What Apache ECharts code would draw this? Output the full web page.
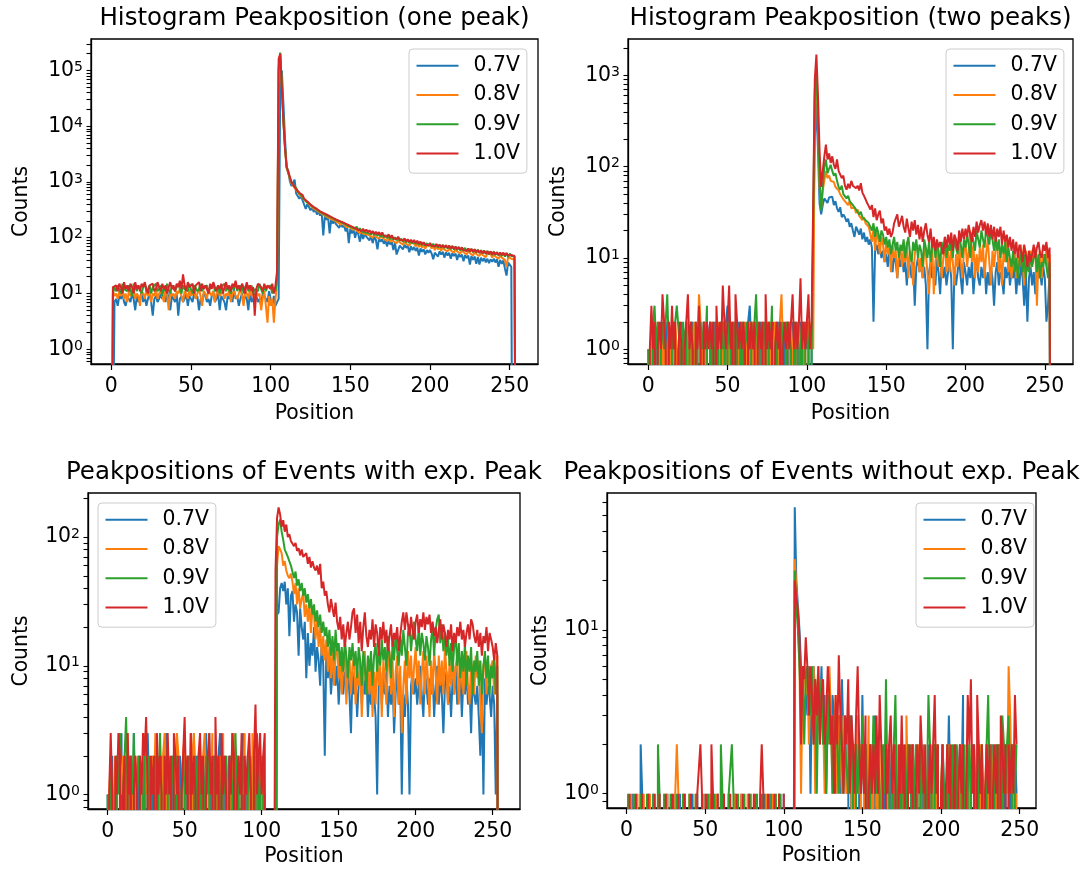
<!DOCTYPE html>
<html>
<head>
<meta charset="utf-8">
<script src="https://cdn.jsdelivr.net/npm/echarts@6/dist/echarts.min.js"></script>
<style>html,body{margin:0;padding:0;background:#fff}#main{width:1084px;height:872px}</style>
</head>
<body>
<div id="main"></div>
<script>
var voltages = ['0.7V', '0.8V', '0.9V', '1.0V'];
var colors = ['#1f77b4', '#ff7f0e', '#2ca02c', '#d62728'];
var titles = ['Histogram Peakposition (one peak)', 'Histogram Peakposition (two peaks)',
  'Peakpositions of Events with exp. Peak', 'Peakpositions of Events without exp. Peak'];
var xTicks = [0, 50, 100, 150, 200, 250];

// counts per position (index = position)
var onePeak07 = [
  0,0,7,8,6,9,8,10,7,6, 9,8,7,10,8,5,9,7,8,11, 7,9,6,8,10,7,4,8,9,7, 8,10,8,9,7,11,8,5,9,8,
  7,10,4,8,9,7,8,10,6,9, 8,7,11,8,9,5,8,7,10,9, 7,8,6,9,11,7,8,10,5,9, 8,7,5,9,8,10,7,12,8,9,
  6,8,10,7,9,8,5,11,7,8, 10,9,7,8,6,10,9,8,7,11, 8,6,9,6,7,8,60000,100000,25000,6000,
  1800,1600,1050,850,800,1100,620,640,500,560, 470,440,330,400,360,310,350,290,330,260,
  300,250,280,110,250,210,240,120,220,180, 200,175,190,150,180,155,170,130,160,80,
  145,120,140,100,135,115,85,125,95,118, 105,112,90,108,80,104,92,62,98,85,
  94,78,90,70,88,76,84,60,82,50, 52,72,78,62,75,66,72,55,70,60, 68,58,66,48,64,56,62,50,60,54,
  60,52,41,54,58,46,57,50,56,44, 55,48,54,42,53,47,52,40,51,45, 50,38,49,43,48,33,47,40,46,34,
  45,33,44,38,43,36,42,35,41,37, 42,36,41,30,40,34,39,28,21,36, 38,30,0,0,0,0
];
var onePeak08 = [
  0,11,9,10,8,11,9,12,8,10, 7,11,9,10,12,8,10,9,6,11, 10,8,12,9,11,7,10,9,12,8, 10,11,9,7,12,10,5,11,9,10,
  8,11,10,12,9,7,11,10,8,12, 9,10,11,8,10,12,9,6,11,10, 8,12,10,9,11,7,10,12,9,10, 11,8,10,9,12,7,10,11,9,8,
  10,12,9,6,11,10,8,12,9,10, 7,11,9,10,5,8,11,6,3,9, 6,8,3,8,15,120000,200000,50000,12000,4000,
  1800,1700,1150,950,860,820,720,690,600,590, 520,505,450,445,400,395,350,355,320,326,
  295,300,270,280,250,258,232,242,215,226, 205,214,188,200,172,190,170,178,152,168,
  150,160,138,152,135,140,120,134,118,128, 115,124,110,118,100,114,104,110,96,106,
  100,96,104,88,98,84,96,86,92,80, 90,82,88,75,86,78,84,72,81,75, 79,70,78,68,76,66,75,64,73,68,
  72,64,71,60,70,62,68,58,67,61, 66,57,65,59,63,54,62,57,61,52, 60,55,59,50,58,53,57,48,56,51,
  55,47,54,49,53,45,52,48,51,44, 50,46,49,42,48,44,47,40,30,45, 47,42,45,40,0,0
];
var onePeak09 = [
  0,10,13,11,14,12,10,15,12,13, 11,14,12,9,15,13,11,14,12,10, 13,15,11,12,14,10,13,12,15,11, 12,14,9,13,11,15,12,10,14,13,
  11,13,15,12,10,14,12,13,11,15, 12,10,14,13,11,12,15,11,13,12, 14,10,13,12,15,11,12,14,10,13, 12,15,11,13,12,10,14,12,16,11,
  13,12,14,10,13,15,11,12,14,10, 12,13,11,15,12,10,14,11,13,12, 14,10,12,11,18,100000,210000,55000,13000,4200,
  1850,1750,1200,990,890,830,780,670,650,580, 560,490,495,430,440,390,395,350,355,320,
  325,292,305,272,285,252,265,238,250,222, 235,208,220,196,210,186,198,174,186,162,
  175,153,166,145,158,136,148,130,140,124, 134,121,130,115,126,112,122,108,118,104,
  115,101,112,98,108,94,105,92,102,90, 99,88,96,85,94,82,92,80,89,79, 87,77,86,75,84,73,82,72,80,71,
  79,70,78,68,76,67,75,66,74,65, 73,64,72,62,71,61,70,60,68,59, 67,58,66,57,64,56,63,55,62,54,
  61,53,60,52,59,51,58,50,57,49, 56,49,55,48,54,47,53,46,53,45, 52,47,51,46,0,0
];
var onePeak10 = [
  0,13,12,14,11,15,13,10,16,12, 14,11,15,13,10,16,12,14,11,15, 13,16,12,10,14,13,15,11,12,16, 13,11,15,12,14,10,13,16,12,14,
  11,15,13,17,12,22,14,11,16,13, 12,15,10,14,13,16,11,15,12,14, 13,10,15,12,16,13,11,14,12,15, 10,13,16,12,14,11,15,13,17,12,
  14,11,15,13,10,16,12,14,11,13, 4,12,15,14,13,11,15,12,14,13, 12,15,10,14,25,160000,200000,50000,12000,4000,
  1900,1800,1250,1010,900,860,740,720,640,610, 585,500,510,445,455,395,405,355,372,328,
  338,298,315,278,296,262,275,244,258,228, 241,214,229,201,217,191,205,179,192,168,
  180,158,170,149,160,139,150,132,145,128, 140,125,136,120,132,117,128,115,126,112,
  124,109,118,104,115,100,111,98,106,95, 104,92,99,89,97,86,94,84,92,82, 91,80,88,78,85,76,83,75,81,73,
  80,72,78,70,77,69,75,68,74,67, 73,66,72,64,71,63,69,62,68,61, 67,60,65,58,64,57,63,56,62,55,
  60,54,59,53,58,52,57,51,57,50, 56,50,55,49,54,49,54,48,53,48, 52,49,51,47,0,0
];

var twoPeaks07 = [
  0,1,1,0,2,1,0,1,2,1, 0,1,2,0,1,1,2,0,1,0, 1,2,1,0,2,1,1,0,2,1, 0,1,2,1,0,2,0,1,1,2,
  1,0,2,1,0,1,2,1,0,2, 3,1,0,2,1,0,1,2,0,1, 2,0,1,2,3,1,0,2,1,0, 1,2,0,1,2,1,0,2,1,2,
  0,1,2,0,1,2,1,0,2,1, 0,2,1,2,0,1,2,1,0,2, 1,2,0,1,1,200,500,150,40,30,
  38,45,47,40,46,44,47,38,42,35, 32,36,28,30,28,25,27,22,24,20, 17,22,20,18,21,16,19,15,17,14,
  16,13,2,12,14,11,13,10,12,9, 11,8,12,10,7,11,9,6,10,8, 11,7,9,5,10,8,6,9,3,8,
  10,7,9,6,8,5,1,7,9,6, 8,5,10,7,4,9,6,8,5,7, 9,6,1,8,5,7,10,6,4,9,
  7,5,8,6,9,4,7,10,6,5, 8,6,9,4,7,5,8,6,3,7, 9,5,7,6,4,8,6,9,5,7,
  6,8,4,7,5,9,6,3,7,2, 6,8,5,7,4,9,6,7,5,8, 6,2,3,7,0,0
];
var twoPeaks08 = [
  1,0,2,1,1,0,2,1,0,1, 2,0,1,2,1,0,1,2,1,0, 2,1,0,1,2,1,0,2,1,2, 0,1,4,2,1,0,2,1,0,2,
  1,2,0,1,2,1,0,2,1,0, 2,1,0,2,1,2,0,1,2,1, 0,2,1,0,2,1,2,0,1,2, 1,0,2,1,0,2,1,2,0,1,
  2,0,1,2,4,1,0,2,1,2, 0,1,2,0,1,2,1,0,2,1, 0,2,1,2,1,600,1000,250,60,35,
  55,70,90,75,80,70,72,68,60,62, 55,50,52,44,46,40,38,42,35,34, 36,31,34,29,30,26,28,24,25,22,
  23,15,21,12,19,16,11,17,14,9, 15,11,13,7,14,10,12,6,11,13, 8,13,9,15,6,12,10,5,11,14,
  12,7,10,6,13,11,7,4,9,14, 4,9,13,8,11,6,10,15,7,12, 7,13,9,5,11,8,14,9,6,12,
  15,8,12,20,9,14,6,11,7,13, 9,14,6,11,16,9,5,12,8,13, 14,7,11,5,12,9,15,7,10,6,
  10,13,6,11,8,14,9,5,12,10, 7,12,9,11,13,3,10,12,6,11, 9,13,7,11,0,0
];
var twoPeaks09 = [
  1,1,0,2,3,1,2,0,1,2, 1,2,4,1,0,2,1,2,3,3, 1,0,2,1,2,0,1,2,1,0, 2,1,0,2,1,2,1,3,0,1,
  2,0,1,2,1,0,2,1,2,0, 1,2,1,0,2,1,2,0,1,2, 0,1,2,1,0,2,1,2,4,1, 2,0,1,2,1,0,2,1,3,0,
  1,2,0,1,2,1,0,2,1,2, 1,0,2,1,2,0,1,2,0,1, 2,1,0,1,1,700,1200,300,70,33,
  60,100,120,85,95,105,90,80,85,70, 60,56,62,50,52,45,48,42,44,38, 36,34,35,30,32,28,29,26,27,24,
  25,20,24,17,22,19,15,20,18,14, 17,13,16,11,14,17,12,15,10,14, 12,16,10,14,17,11,9,15,12,16,
  10,14,12,8,16,13,10,15,9,13, 16,10,14,12,8,15,11,17,10,14, 12,16,10,17,13,11,18,14,10,16,
  13,18,14,10,19,15,12,20,16,13, 20,16,13,22,17,14,21,16,12,17, 12,16,10,14,11,15,9,13,10,8,
  12,7,10,6,9,12,7,11,6,9, 7,11,8,10,12,7,11,6,9,8, 11,8,6,9,0,0
];
var twoPeaks10 = [
  0,1,3,1,2,0,1,2,1,4, 2,1,0,2,1,3,1,2,0,1, 2,1,0,1,2,4,1,2,1,0, 2,1,3,1,0,2,1,2,1,2,
  1,2,0,3,1,2,1,5,2,1, 2,5,1,2,0,4,2,1,2,1, 2,1,0,2,1,2,1,2,0,1, 2,1,2,0,4,1,2,1,2,0,
  1,2,1,2,0,1,2,1,2,1, 2,4,1,2,1,2,6,1,2,1, 2,4,1,2,2,900,1700,600,150,60,
  90,130,175,120,140,110,130,105,95,120, 90,92,75,80,62,56,65,58,70,62, 65,58,62,55,66,52,48,44,40,37,
  34,38,28,35,26,30,33,24,27,20, 22,18,21,17,19,24,27,30,22,25, 29,22,19,27,21,17,25,20,26,18,
  23,16,22,15,20,24,18,15,21,13, 17,12,16,13,15,15,11,17,13,18, 14,19,12,18,16,12,20,15,21,16,
  21,17,23,18,15,22,17,25,19,23, 26,20,25,18,24,17,23,16,22,15, 21,17,22,14,20,15,18,13,17,12,
  16,11,15,10,14,12,9,14,11,8, 12,9,11,14,10,13,15,11,10,14, 12,15,10,13,0,0
];

var withExp07 = [
  1,0,1,2,0,1,2,0,1,3, 0,2,1,0,2,1,0,3,1,0, 2,1,0,1,2,0,3,1,0,2, 1,0,2,1,0,2,1,0,3,2,
  0,1,2,0,1,3,0,2,1,0, 2,1,0,2,1,0,3,1,2,0, 1,2,0,1,3,0,2,1,0,2, 1,0,2,3,0,1,2,0,1,2,
  0,3,1,0,2,1,0,2,3,0, 1,2,0,1,2,0,1,3,0,2, 1,2,0,0,0,0,0,0,0,0,
  25,26,40,44,38,45,30,40,17,35, 38,22,30,26,12,28,20,16,22,8, 18,10,15,12,20,9,14,11,7,16,
  10,2,13,8,12,6,9,11,7,10, 5,8,11,6,9,7,10,6,3,9, 6,8,4,7,10,5,8,6,9,4,
  7,5,8,6,4,1,7,9,5,8, 6,9,4,7,5,8,3,6,9,5, 7,1,6,4,8,5,1,7,9,6,
  8,5,7,10,6,4,9,7,5,8, 6,9,4,7,10,5,8,6,3,7, 9,5,7,4,8,6,10,5,7,9,
  4,8,6,9,5,7,3,8,6,5, 7,4,2,6,1,8,5,7,6,4, 7,5,1,6,0,0
];
var withExp08 = [
  0,1,2,0,1,2,1,0,2,1, 2,0,1,3,0,2,1,0,2,1, 0,2,1,0,3,1,2,0,1,2, 1,3,0,2,1,0,2,3,1,0,
  2,1,0,2,1,3,2,0,1,2, 3,0,2,1,0,2,3,1,0,2, 1,0,2,3,1,0,2,1,3,0, 2,1,0,2,1,3,0,2,1,0,
  2,1,3,0,2,1,0,2,1,3, 0,2,1,0,3,1,2,0,1,1, 2,0,1,0,0,0,0,0,0,0,
  60,85,80,75,60,65,55,50,48,52, 45,36,44,30,40,28,33,37,24,30, 22,31,18,28,25,16,23,14,20,12,
  17,11,16,9,14,8,13,7,12,15, 8,11,6,10,13,5,9,12,6,10, 12,5,9,7,11,4,8,13,6,10,
  6,11,4,9,5,12,7,10,4,11, 8,5,10,13,6,11,4,9,12,5, 10,3,7,11,5,13,8,12,6,10,
  14,7,11,5,9,13,6,12,8,4, 11,6,13,9,5,12,7,11,6,14, 9,5,11,7,13,6,10,12,5,9,
  11,6,10,13,7,5,11,9,6,12, 8,11,5,3,10,12,6,11,7,10, 11,6,9,12,0,0
];
var withExp09 = [
  1,0,2,1,1,0,2,1,3,0, 1,2,4,1,0,2,1,3,0,1, 2,1,0,1,2,0,1,2,1,0, 1,2,0,1,3,1,0,2,1,2,
  0,1,2,1,0,2,1,0,1,2, 1,0,2,1,3,0,1,2,1,0, 2,1,0,1,2,1,3,0,1,2, 1,0,2,1,0,2,1,2,0,1,
  2,1,0,3,1,2,0,1,2,1, 0,1,2,1,0,2,1,0,2,1, 0,1,1,0,0,0,0,0,0,0,
  100,125,137,110,95,80,75,70,68,60, 58,48,54,42,47,38,44,35,40,31, 36,28,33,25,30,22,27,20,25,18,
  22,17,20,14,19,12,17,11,19,13, 15,10,14,9,16,12,8,14,11,15, 10,13,8,14,11,7,13,10,6,12,
  9,13,7,12,15,9,13,10,16,11, 14,9,17,12,8,15,11,18,13,10, 17,12,19,14,10,18,21,13,18,22,
  16,13,20,12,18,15,11,17,14,10, 16,20,12,19,23,25,15,21,13,18, 12,17,10,15,9,14,17,10,15,8,
  13,9,15,7,12,9,14,6,11,9, 13,7,11,6,10,13,8,12,6,10, 8,12,6,10,0,0
];
var withExp10 = [
  0,1,3,1,0,2,1,3,2,0, 1,2,0,3,1,2,0,1,2,1, 0,2,1,3,2,4,1,0,2,1, 2,0,3,1,2,1,0,2,1,3,
  1,2,0,3,2,1,2,0,1,2, 4,1,2,0,3,1,2,1,0,2, 3,1,2,0,1,2,3,1,2,0, 4,1,2,0,3,1,2,1,0,2,
  1,3,2,0,1,2,1,3,0,2, 1,2,3,1,0,2,5,1,2,3, 1,2,3,0,0,0,0,0,0,55,
  140,170,150,120,135,110,125,100,105,93, 95,85,90,78,82,72,80,70,68,75, 62,70,58,65,58,55,60,51,62,40,
  45,35,38,30,26,33,28,24,31,22, 19,24,16,21,14,18,22,16,20,26, 28,18,25,15,22,13,20,26,17,14,
  19,16,23,14,21,18,12,20,16,22, 15,19,13,17,21,14,18,16,20,13, 17,22,26,19,26,21,17,24,19,16,
  22,25,18,23,20,26,19,24,21,25, 18,22,17,20,15,19,23,16,21,18, 14,19,16,21,13,18,15,20,17,22,
  16,19,14,18,21,16,23,21,17,15, 19,14,18,12,17,15,20,13,18,16, 14,11,15,12,0,0
];

var withoutExp07 = [
  0,0,0,0,1,1,0,0,0,2, 1,1,0,0,1,0,0,1,1,0, 0,1,1,0,0,0,1,1,0,0, 1,1,0,0,1,0,0,1,1,0,
  0,0,1,1,0,1,1,0,0,0, 1,1,0,0,1,1,0,0,1,0, 0,1,1,0,0,1,1,0,0,1, 1,0,0,1,1,0,0,0,1,1,
  0,0,1,1,0,0,1,0,1,1, 0,0,1,1,0,0,0,1,1,0, 1,0,0,0,0,0,0,56,20,14,
  10,6,4,6,5,3,6,1,5,6, 4,2,5,3,6,2,4,1,3,5, 2,4,3,1,2,3,1,5,2,3,
  1,2,0,3,1,2,1,0,2,1, 4,1,2,0,1,2,1,0,3,1, 2,0,1,1,2,0,1,2,1,0,
  1,2,0,1,0,2,1,0,1,2, 0,1,2,1,0,1,0,2,1,0, 1,0,2,1,0,1,2,0,1,1,
  0,2,1,0,1,3,1,0,2,1, 0,1,2,1,4,0,1,2,0,1, 2,1,0,1,2,0,1,1,0,2,
  1,0,1,2,0,1,0,2,1,0, 1,2,0,1,2,0,1,2,1
];
var withoutExp08 = [
  0,0,0,1,1,0,0,1,1,0, 0,1,1,0,0,1,1,0,0,0, 1,1,0,0,1,0,1,1,0,0, 0,1,2,1,0,0,1,1,0,0,
  1,1,0,0,1,1,0,0,0,1, 1,0,0,1,1,0,0,1,1,0, 0,0,1,1,0,1,1,0,0,1, 1,0,0,1,1,0,0,1,1,0,
  0,1,1,0,0,1,1,0,0,1, 1,0,0,1,1,0,0,1,0,0, 0,0,0,0,0,0,0,27,18,12,
  6,1,5,6,4,6,2,5,3,6, 1,4,6,2,5,3,1,4,2,6, 3,1,2,4,1,3,2,1,3,2,
  1,2,3,1,0,2,1,3,1,2, 0,1,2,1,3,0,2,1,0,2, 1,0,2,1,1,0,1,2,0,1,
  2,1,0,1,2,0,1,0,3,1, 1,0,2,1,0,1,2,1,0,1, 0,1,1,0,2,1,0,2,1,0,
  1,2,0,1,0,2,1,0,1,2, 1,0,1,2,0,1,1,0,2,1, 0,2,1,1,0,2,1,0,1,2,
  1,0,2,1,0,1,2,1,0,2, 1,2,1,6,3,1,2,0,1
];
var withoutExp09 = [
  0,1,1,0,0,1,1,0,0,1, 1,0,0,1,1,0,0,1,1,0, 2,1,0,0,1,1,0,0,1,1, 0,0,1,1,0,0,1,1,0,0,
  1,1,0,0,1,1,0,0,1,1, 0,0,1,1,0,0,1,1,0,0, 2,1,1,0,0,1,1,2,1,0, 0,1,1,0,0,1,1,0,0,1,
  1,0,0,1,1,0,0,1,1,0, 0,1,1,0,0,1,1,0,1,1, 0,0,0,0,0,0,0,23,14,10,
  6,3,6,2,5,6,4,3,6,2, 5,1,4,3,5,2,3,1,4,2, 3,1,2,3,2,1,3,2,1,2,
  2,1,3,2,1,0,2,1,2,1, 3,1,2,1,0,2,1,3,2,1, 2,1,0,2,1,5,1,2,0,1,
  2,4,1,0,2,1,2,0,1,2, 1,2,0,1,2,1,0,2,1,2, 0,1,4,2,1,0,2,1,2,0,
  1,2,1,0,2,1,0,2,1,0, 2,1,0,2,1,2,0,1,2,1, 0,2,1,0,2,1,2,1,0,2,
  4,1,2,0,1,2,1,2,0,3, 2,1,2,3,1,2,0,1,2
];
var withoutExp10 = [
  0,0,1,1,0,0,1,1,0,0, 1,1,0,0,1,1,0,0,1,1, 0,1,1,0,0,1,1,0,0,1, 1,0,0,1,1,0,0,1,1,0,
  0,1,1,0,0,1,1,2,1,0, 0,1,1,0,2,1,0,0,1,1, 0,0,1,1,0,0,1,1,0,0, 1,1,0,0,1,1,0,0,1,1,
  0,1,1,0,0,1,2,1,0,0, 1,1,0,0,1,1,0,1,1,0, 1,0,0,0,0,0,0,20,16,13,
  9,2,6,5,9,6,3,6,4,2, 5,3,6,2,4,5,2,3,6,4, 2,3,1,4,2,7,3,2,1,3,
  2,5,1,3,2,1,3,6,2,1, 2,1,3,0,1,2,1,2,1,3, 1,4,2,1,0,2,1,2,3,1,
  2,1,0,2,1,3,1,2,0,1, 2,1,2,0,1,2,1,3,3,1, 2,0,1,2,1,2,4,1,2,0,
  1,2,0,1,2,1,2,0,1,2, 0,1,2,1,2,0,1,4,2,5, 1,2,0,4,2,1,2,0,1,2,
  1,2,0,1,2,1,2,0,3,2, 1,2,0,2,1,2,1,4,2
];

var panelData = [
  [onePeak07, onePeak08, onePeak09, onePeak10],
  [twoPeaks07, twoPeaks08, twoPeaks09, twoPeaks10],
  [withExp07, withExp08, withExp09, withExp10],
  [withoutExp07, withoutExp08, withoutExp09, withoutExp10]
];

// layout of the four axes boxes (pixels)
var boxes = [
  {left: 91, top: 39, width: 447, height: 325},
  {left: 628, top: 39, width: 445, height: 325},
  {left: 88, top: 493, width: 432, height: 316},
  {left: 607, top: 493, width: 429, height: 315}
];
var xRanges = [[-12.75, 267.75], [-12.75, 267.75], [-12.75, 267.75], [-12.4, 260.4]];
var yLogRanges = [[-0.265, 5.565], [-0.162, 3.40], [-0.112, 2.342], [-0.087, 1.835]];
var nameGapsY = [59, 59, 56, 56];
var nameGapsX = [40, 40, 38, 38];
var legendPos = [[409, 49], [946, 49], [98, 503], [916, 503]];

var FONT = 'DejaVu Sans';
var chart = echarts.init(document.getElementById('main'));

function allLogTicks(lo, hi) {
  // 1..9 times each power of ten inside the axis range (major + minor ticks)
  var out = [];
  for (var e = Math.floor(lo); e <= Math.ceil(hi); e++) {
    for (var m = 1; m <= 9; m++) {
      var v = m * Math.pow(10, e);
      if (Math.log10(v) > lo && Math.log10(v) < hi) out.push(v);
    }
  }
  return out;
}
function toPoints(arr) {
  // zero counts are pushed far below the log axis, like matplotlib's clipping
  return arr.map(function (v, i) { return [i, v > 0 ? v : 1e-5]; });
}

var grid = [], xAxis = [], yAxis = [], series = [], title = [], legend = [];
boxes.forEach(function (b, k) {
  grid.push({left: b.left, top: b.top, width: b.width, height: b.height,
    show: true, borderColor: '#000', borderWidth: 1.3, containLabel: false});
  title.push({
    text: titles[k], left: b.left + b.width / 2, top: (k < 2 ? 18.7 : 472.7) - 15,
    textAlign: 'center', padding: 0,
    textStyle: {fontFamily: FONT, fontSize: 24.5, fontWeight: 'normal', color: '#000', lineHeight: 30}
  });
  xAxis.push({
    type: 'value', gridIndex: k, min: xRanges[k][0], max: xRanges[k][1],
    name: 'Position', nameLocation: 'middle', nameGap: nameGapsX[k],
    nameTextStyle: {fontFamily: FONT, fontSize: 20.4, color: '#000'},
    axisLine: {show: true, onZero: false, lineStyle: {color: '#000', width: 1.3}},
    axisTick: {show: true, length: 6, customValues: xTicks, lineStyle: {color: '#000', width: 1.2}},
    axisLabel: {customValues: xTicks, margin: 13, fontFamily: FONT, fontSize: 20.4, color: '#000'},
    splitLine: {show: false}
  });
  var lo = yLogRanges[k][0], hi = yLogRanges[k][1];
  yAxis.push({
    type: 'log', logBase: 10, gridIndex: k, position: 'left', min: Math.pow(10, lo), max: Math.pow(10, hi),
    name: 'Counts', nameLocation: 'middle', nameGap: nameGapsY[k],
    nameTextStyle: {fontFamily: FONT, fontSize: 20.4, color: '#000'},
    axisLine: {show: true, onZero: false, lineStyle: {color: '#000', width: 1.3}},
    axisTick: {show: true, length: 4.5, customValues: allLogTicks(lo, hi), lineStyle: {color: '#000', width: 1.1}},
    axisLabel: {
      showMinLabel: false, showMaxLabel: false, margin: 8,
      fontFamily: FONT, fontSize: 20.4, color: '#000',
      formatter: function (v) {
        var e = Math.log10(v);
        if (Math.abs(e - Math.round(e)) > 1e-6) return '';
        return '10{s|' + Math.round(e) + '}';
      },
      rich: {s: {fontFamily: FONT, fontSize: 14, color: '#000', verticalAlign: 'top'}}
    },
    splitLine: {show: false}
  });
  panelData[k].forEach(function (arr, s) {
    series.push({
      name: voltages[s], type: 'line', xAxisIndex: k, yAxisIndex: k,
      data: toPoints(arr),
      showSymbol: false, symbol: 'none', clip: true,
      lineStyle: {color: colors[s], width: 2}, itemStyle: {color: colors[s]},
      emphasis: {disabled: true}
    });
  });
  legend.push({
    data: voltages, orient: 'vertical', left: legendPos[k][0], top: legendPos[k][1],
    icon: 'rect', itemWidth: 42, itemHeight: 2, itemGap: 0,
    padding: [2, 7, 5, 7.5],
    backgroundColor: 'rgba(255,255,255,0.8)', borderColor: '#cccccc', borderWidth: 1, borderRadius: 4,
    selectedMode: false,
    textStyle: {fontFamily: FONT, fontSize: 20.4, color: '#000', lineHeight: 29.3, padding: [0, 0, 0, 10]}
  });
});

chart.setOption({
  animation: false,
  color: colors,
  title: title,
  legend: legend,
  grid: grid,
  xAxis: xAxis,
  yAxis: yAxis,
  series: series
});
</script>
</body>
</html>
